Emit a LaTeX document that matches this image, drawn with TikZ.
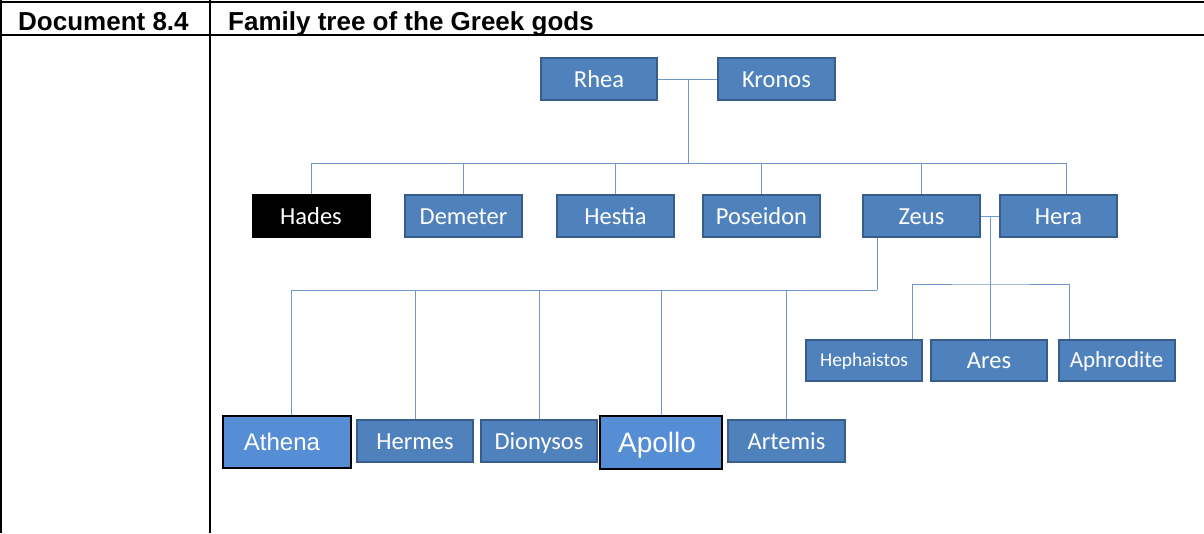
\documentclass[tikz,border=0pt]{standalone}
\usepackage{fontspec}
\setmainfont{Carlito}
\newfontfamily\arialfont{Liberation Sans}
\definecolor{boxfill}{HTML}{4F81BD}
\definecolor{boxline}{HTML}{385D8A}
\definecolor{lightfill}{HTML}{558ED5}
\definecolor{linkblue}{HTML}{6F98CC}
\tikzset{
  godbox/.style={draw=boxline, fill=boxfill, line width=2pt, text=white,
    minimum width=117pt, minimum height=42pt, inner sep=0pt,
    text height=16pt, text depth=0pt,
    font=\fontsize{24.5}{27}\selectfont},
  arialbox/.style={godbox, draw=black, fill=lightfill},
  link/.style={draw=linkblue, line width=1pt},
  rule/.style={line width=2pt},
  headtext/.style={anchor=base west, inner sep=0pt,
    font=\arialfont\bfseries\fontsize{26}{28}\selectfont}
}
\begin{document}
\begin{tikzpicture}[x=1pt,y=-1pt]
  \useasboundingbox (0,0) rectangle (1204,533);
  % table frame
  \draw[rule] (0,1.5) -- (1204,1.5);
  \draw[rule] (0,34.5) -- (1204,34.5);
  \draw[line width=1.5pt] (1,0) -- (1,533);
  \draw[rule] (210,0) -- (210,533);
  \node[headtext] (doc) at (18,30.5) {Document 8.4};
  \node[headtext] (title) at (228,30.5) {Family tree of the Greek gods};
  % parents
  \node[godbox, minimum width=116pt] (Rhea) at (599,79) {Rhea};
  \node[godbox] (Kronos) at (776.5,79) {Kronos};
  % second generation
  \node[godbox, fill=black, draw=black] (Hades) at (311,216) {Hades};
  \node[godbox] (Demeter) at (463.5,216) {Demeter};
  \node[godbox] (Hestia) at (615.5,216) {Hestia};
  \node[godbox] (Poseidon) at (761.5,216) {Poseidon};
  \node[godbox] (Zeus) at (921.5,216) {Zeus};
  \node[godbox] (Hera) at (1058.5,216) {Hera};
  % children of Zeus and Hera
  \node[godbox, minimum width=116pt, minimum height=41pt, text height=12.6pt,
    font=\fontsize{19.5}{22}\selectfont] (Hephaistos) at (864,360.5) {Hephaistos};
  \node[godbox, minimum width=116pt, minimum height=41pt] (Ares) at (989,360.5) {Ares};
  \node[godbox, minimum width=116pt, minimum height=41pt, text height=14.8pt,
    font=\fontsize{23}{26}\selectfont] (Aphrodite) at (1116.5,360.5) {Aphrodite};
  % other children of Zeus
  \node[arialbox, minimum width=128pt, minimum height=52pt, text height=17.2pt,
    font=\arialfont\fontsize{24}{27}\selectfont] (Athena) at (287,442) {Athena\hspace*{10pt}};
  \node[godbox, minimum width=116pt] (Hermes) at (415,441) {Hermes};
  \node[godbox, minimum width=116pt] (Dionysos) at (539,441) {Dionysos};
  \node[arialbox, minimum width=122pt, minimum height=53pt, text height=20pt,
    font=\arialfont\fontsize{28}{30}\selectfont] (Apollo) at (661,442.5) {Apollo\hspace*{8pt}};
  \node[godbox] (Artemis) at (786.5,441) {Artemis};
  % links
  \coordinate (rk) at (688,79);
  \coordinate (bus) at (688,163);
  \draw[link] (Rhea.east) -- (Kronos.west);
  \draw[link] (rk) -- (bus);
  \foreach \g in {Hades,Demeter,Hestia,Poseidon,Zeus}
    \draw[link] (\g.north) |- (bus);
  \draw[link] ([xshift=7.5pt]Hera.north) |- (bus);
  \coordinate (zbus) at (877,290);
  \draw[link] (zbus |- Zeus.south) -- (zbus);
  \foreach \c in {Hermes,Dionysos,Apollo,Artemis}
    \draw[link] (\c.north) |- (zbus);
  \draw[link] ([xshift=4pt]Athena.north) |- (zbus);
  \coordinate (zh) at (990,216);
  \coordinate (hbus) at (990,284);
  \draw[link] (Zeus.east) -- (Hera.west);
  \draw[link] (zh) -- (zh |- Ares.north);
  \draw[link] ([xshift=-11pt]Hephaistos.north east) |- (hbus) -| ([xshift=12pt]Aphrodite.north west);
\end{tikzpicture}
\end{document}
